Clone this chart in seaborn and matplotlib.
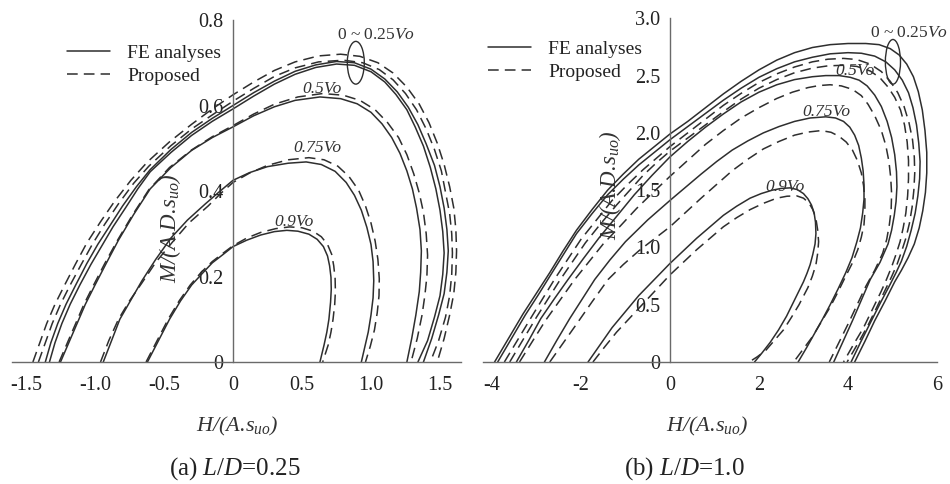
import matplotlib
matplotlib.use("Agg")
import matplotlib.pyplot as plt
import pandas as pd
import seaborn as sns
from matplotlib.patches import Ellipse
from matplotlib.lines import Line2D

# ---------------- panel (a)  L/D = 0.25 ----------------
a_fe_000 = [(-1.36,0),(-1.32,0.045),(-1.27,0.09),(-1.21,0.135),(-1.14,0.18),(-1.06,0.23),(-0.98,0.275),(-0.89,0.32),(-0.80,0.365),(-0.70,0.41),(-0.60,0.45),(-0.45,0.497),(-0.30,0.537),(-0.15,0.57),(0,0.60),(0.15,0.63),(0.30,0.657),(0.45,0.68),(0.60,0.695),(0.75,0.703),(0.88,0.70),(1.00,0.685),(1.10,0.662),(1.19,0.632),(1.27,0.596),(1.34,0.555),(1.40,0.51),(1.46,0.46),(1.50,0.41),(1.53,0.36),(1.55,0.31),(1.56,0.26),(1.55,0.21),(1.53,0.16),(1.49,0.11),(1.44,0.055),(1.38,0)]
a_fe_025 = [(-1.33,0),(-1.29,0.045),(-1.24,0.09),(-1.18,0.135),(-1.11,0.18),(-1.03,0.228),(-0.95,0.272),(-0.87,0.316),(-0.78,0.36),(-0.69,0.405),(-0.60,0.445),(-0.45,0.49),(-0.30,0.53),(-0.15,0.563),(0,0.592),(0.15,0.622),(0.30,0.65),(0.45,0.673),(0.60,0.689),(0.75,0.697),(0.88,0.694),(1.00,0.679),(1.10,0.655),(1.18,0.626),(1.26,0.59),(1.32,0.55),(1.38,0.505),(1.43,0.455),(1.47,0.405),(1.50,0.355),(1.52,0.305),(1.53,0.255),(1.52,0.205),(1.50,0.155),(1.46,0.105),(1.41,0.05),(1.34,0)]
a_pr_000 = [(-1.45,0),(-1.40,0.045),(-1.35,0.09),(-1.29,0.135),(-1.22,0.18),(-1.14,0.23),(-1.06,0.278),(-0.96,0.328),(-0.86,0.375),(-0.74,0.425),(-0.62,0.468),(-0.46,0.515),(-0.30,0.556),(-0.15,0.592),(0,0.625),(0.15,0.655),(0.30,0.682),(0.45,0.702),(0.62,0.716),(0.78,0.72),(0.92,0.715),(1.05,0.70),(1.16,0.676),(1.26,0.643),(1.35,0.603),(1.42,0.56),(1.48,0.512),(1.53,0.462),(1.57,0.41),(1.60,0.36),(1.615,0.31),(1.62,0.26),(1.615,0.21),(1.60,0.16),(1.57,0.11),(1.53,0.055),(1.48,0)]
a_pr_025 = [(-1.41,0),(-1.36,0.045),(-1.31,0.09),(-1.25,0.135),(-1.18,0.18),(-1.10,0.228),(-1.02,0.275),(-0.93,0.322),(-0.83,0.37),(-0.72,0.418),(-0.61,0.458),(-0.45,0.506),(-0.30,0.545),(-0.15,0.578),(0,0.61),(0.15,0.64),(0.30,0.668),(0.45,0.688),(0.62,0.702),(0.80,0.706),(0.94,0.70),(1.06,0.684),(1.16,0.66),(1.25,0.628),(1.33,0.59),(1.40,0.545),(1.46,0.497),(1.51,0.447),(1.54,0.397),(1.57,0.347),(1.585,0.30),(1.59,0.255),(1.585,0.205),(1.57,0.155),(1.54,0.105),(1.49,0.05),(1.43,0)]
a_fe_050 = [(-1.25,0),(-1.19,0.045),(-1.13,0.09),(-1.07,0.135),(-1.00,0.18),(-0.92,0.23),(-0.83,0.285),(-0.72,0.345),(-0.60,0.405),(-0.45,0.455),(-0.30,0.495),(-0.15,0.525),(0,0.55),(0.15,0.576),(0.30,0.597),(0.45,0.612),(0.63,0.62),(0.78,0.616),(0.90,0.604),(1.00,0.584),(1.08,0.557),(1.15,0.525),(1.21,0.488),(1.26,0.447),(1.30,0.405),(1.33,0.36),(1.355,0.31),(1.365,0.26),(1.36,0.21),(1.35,0.165),(1.325,0.11),(1.295,0.055),(1.26,0)]
a_pr_050 = [(-1.26,0),(-1.20,0.045),(-1.14,0.09),(-1.08,0.135),(-1.01,0.18),(-0.93,0.23),(-0.84,0.283),(-0.73,0.343),(-0.61,0.403),(-0.46,0.455),(-0.30,0.496),(-0.15,0.527),(0,0.553),(0.15,0.58),(0.30,0.603),(0.47,0.62),(0.65,0.628),(0.80,0.624),(0.92,0.612),(1.03,0.59),(1.12,0.56),(1.20,0.525),(1.26,0.485),(1.31,0.44),(1.35,0.395),(1.38,0.35),(1.40,0.30),(1.41,0.25),(1.405,0.20),(1.39,0.155),(1.37,0.11),(1.335,0.055),(1.29,0)]
a_fe_075 = [(-0.94,0),(-0.88,0.05),(-0.82,0.10),(-0.74,0.145),(-0.66,0.19),(-0.56,0.24),(-0.45,0.29),(-0.33,0.332),(-0.20,0.37),(-0.10,0.398),(0,0.425),(0.12,0.443),(0.25,0.457),(0.40,0.465),(0.53,0.468),(0.64,0.462),(0.74,0.446),(0.82,0.42),(0.88,0.39),(0.93,0.355),(0.97,0.315),(1.00,0.275),(1.015,0.235),(1.02,0.19),(1.015,0.15),(1.00,0.11),(0.98,0.07),(0.955,0.035),(0.93,0)]
a_pr_075 = [(-0.96,0),(-0.90,0.05),(-0.83,0.10),(-0.75,0.143),(-0.66,0.185),(-0.56,0.233),(-0.44,0.28),(-0.32,0.325),(-0.18,0.365),(-0.09,0.394),(0,0.42),(0.12,0.442),(0.25,0.46),(0.40,0.473),(0.55,0.478),(0.66,0.473),(0.76,0.458),(0.84,0.434),(0.91,0.402),(0.96,0.365),(1.00,0.325),(1.03,0.283),(1.05,0.24),(1.06,0.195),(1.058,0.155),(1.045,0.115),(1.025,0.075),(0.995,0.037),(0.96,0)]
a_fe_090 = [(-0.62,0),(-0.58,0.025),(-0.54,0.05),(-0.50,0.075),(-0.46,0.10),(-0.38,0.143),(-0.30,0.18),(-0.22,0.208),(-0.15,0.232),(-0.07,0.252),(0,0.27),(0.10,0.285),(0.20,0.297),(0.30,0.305),(0.39,0.308),(0.47,0.306),(0.55,0.299),(0.61,0.287),(0.655,0.27),(0.685,0.248),(0.70,0.225),(0.71,0.198),(0.712,0.17),(0.707,0.14),(0.695,0.10),(0.68,0.07),(0.66,0.04),(0.645,0.02),(0.63,0)]
a_pr_090 = [(-0.63,0),(-0.59,0.025),(-0.55,0.05),(-0.51,0.075),(-0.47,0.10),(-0.39,0.143),(-0.31,0.18),(-0.23,0.21),(-0.15,0.235),(-0.07,0.255),(0,0.272),(0.10,0.29),(0.20,0.303),(0.31,0.312),(0.41,0.316),(0.50,0.314),(0.58,0.306),(0.64,0.293),(0.685,0.275),(0.715,0.252),(0.73,0.225),(0.74,0.195),(0.742,0.165),(0.737,0.135),(0.725,0.10),(0.71,0.07),(0.69,0.04),(0.67,0.02),(0.65,0)]

# ---------------- panel (b)  L/D = 1.0 ----------------
b_fe_000 = [(-3.94,0),(-3.62,0.21),(-3.30,0.42),(-3.00,0.60),(-2.70,0.78),(-2.40,0.97),(-2.10,1.15),(-1.75,1.33),(-1.40,1.50),(-1.05,1.64),(-0.70,1.77),(-0.35,1.88),(0,1.99),(0.40,2.10),(0.80,2.22),(1.20,2.34),(1.60,2.45),(2.00,2.55),(2.40,2.635),(2.80,2.70),(3.20,2.745),(3.60,2.77),(4.00,2.78),(4.40,2.78),(4.70,2.77),(4.95,2.735),(5.15,2.68),(5.32,2.60),(5.47,2.49),(5.58,2.36),(5.67,2.20),(5.73,2.02),(5.77,1.83),(5.77,1.65),(5.74,1.48),(5.68,1.32),(5.60,1.17),(5.49,1.03),(5.35,0.91),(5.20,0.80),(5.05,0.70),(4.83,0.53),(4.60,0.36),(4.38,0.18),(4.15,0)]
b_fe_025 = [(-3.87,0),(-3.56,0.205),(-3.25,0.41),(-2.96,0.585),(-2.68,0.76),(-2.39,0.94),(-2.10,1.12),(-1.75,1.295),(-1.40,1.46),(-1.05,1.595),(-0.70,1.72),(-0.35,1.83),(0,1.94),(0.40,2.055),(0.80,2.17),(1.20,2.285),(1.60,2.39),(2.00,2.485),(2.40,2.56),(2.80,2.62),(3.20,2.66),(3.60,2.69),(4.00,2.70),(4.30,2.695),(4.60,2.67),(4.85,2.62),(5.05,2.55),(5.22,2.46),(5.36,2.35),(5.46,2.22),(5.54,2.07),(5.59,1.91),(5.62,1.75),(5.61,1.60),(5.57,1.45),(5.51,1.30),(5.42,1.15),(5.32,1.01),(5.20,0.88),(5.08,0.78),(4.95,0.68),(4.72,0.51),(4.50,0.34),(4.28,0.17),(4.07,0)]
b_pr_000 = [(-3.72,0),(-3.41,0.20),(-3.10,0.40),(-2.84,0.565),(-2.58,0.73),(-2.29,0.90),(-2.00,1.07),(-1.65,1.24),(-1.30,1.41),(-0.95,1.55),(-0.60,1.68),(-0.30,1.78),(0,1.88),(0.40,2.00),(0.80,2.12),(1.20,2.24),(1.60,2.345),(2.00,2.44),(2.40,2.515),(2.80,2.575),(3.20,2.62),(3.55,2.643),(3.90,2.65),(4.20,2.64),(4.50,2.60),(4.75,2.535),(4.95,2.45),(5.12,2.35),(5.26,2.23),(5.37,2.09),(5.45,1.94),(5.49,1.79),(5.50,1.65),(5.48,1.50),(5.44,1.35),(5.38,1.21),(5.30,1.08),(5.20,0.96),(5.10,0.85),(4.98,0.745),(4.85,0.64),(4.65,0.48),(4.45,0.32),(4.22,0.16),(3.98,0)]
b_pr_025 = [(-3.60,0),(-3.30,0.195),(-3.00,0.39),(-2.74,0.55),(-2.48,0.71),(-2.19,0.875),(-1.90,1.04),(-1.55,1.21),(-1.20,1.37),(-0.90,1.50),(-0.60,1.63),(-0.30,1.74),(0,1.84),(0.40,1.955),(0.80,2.07),(1.20,2.185),(1.60,2.295),(2.00,2.39),(2.40,2.465),(2.80,2.525),(3.20,2.565),(3.55,2.585),(3.90,2.59),(4.20,2.58),(4.50,2.54),(4.72,2.48),(4.90,2.40),(5.05,2.31),(5.18,2.20),(5.27,2.07),(5.33,1.92),(5.36,1.76),(5.36,1.60),(5.34,1.45),(5.30,1.30),(5.24,1.17),(5.17,1.05),(5.08,0.94),(4.98,0.83),(4.87,0.725),(4.75,0.62),(4.55,0.46),(4.35,0.30),(4.12,0.15),(3.90,0)]
b_fe_050 = [(-3.45,0),(-3.17,0.19),(-2.90,0.38),(-2.60,0.55),(-2.29,0.72),(-1.95,0.90),(-1.60,1.08),(-1.20,1.27),(-0.80,1.46),(-0.40,1.63),(0,1.79),(0.40,1.925),(0.80,2.05),(1.20,2.165),(1.60,2.27),(2.00,2.355),(2.40,2.42),(2.80,2.465),(3.20,2.49),(3.50,2.50),(3.80,2.50),(4.05,2.485),(4.25,2.46),(4.43,2.41),(4.60,2.33),(4.75,2.23),(4.88,2.10),(4.98,1.96),(5.05,1.81),(5.09,1.66),(5.10,1.53),(5.08,1.40),(5.04,1.28),(4.98,1.15),(4.90,1.03),(4.72,0.87),(4.50,0.72),(4.30,0.54),(4.10,0.36),(3.89,0.18),(3.68,0)]
b_pr_050 = [(-3.38,0),(-3.09,0.18),(-2.80,0.36),(-2.47,0.54),(-2.14,0.72),(-1.82,0.875),(-1.50,1.03),(-1.12,1.185),(-0.75,1.34),(-0.38,1.48),(0,1.62),(0.40,1.76),(0.80,1.90),(1.20,2.02),(1.60,2.13),(2.00,2.22),(2.40,2.30),(2.75,2.355),(3.10,2.395),(3.35,2.413),(3.60,2.42),(3.85,2.41),(4.10,2.38),(4.30,2.325),(4.45,2.25),(4.60,2.15),(4.75,2.02),(4.85,1.89),(4.92,1.75),(4.96,1.61),(4.98,1.47),(4.97,1.33),(4.93,1.20),(4.87,1.07),(4.78,0.95),(4.60,0.80),(4.40,0.66),(4.20,0.495),(4.00,0.33),(3.79,0.165),(3.58,0)]
b_fe_075 = [(-2.82,0),(-2.54,0.19),(-2.25,0.38),(-1.97,0.55),(-1.69,0.72),(-1.35,0.89),(-1.00,1.05),(-0.50,1.24),(0,1.41),(0.35,1.525),(0.70,1.64),(1.05,1.75),(1.40,1.85),(1.75,1.93),(2.10,2.00),(2.45,2.055),(2.80,2.10),(3.15,2.13),(3.50,2.14),(3.72,2.13),(3.90,2.10),(4.04,2.05),(4.15,1.98),(4.24,1.89),(4.30,1.78),(4.34,1.67),(4.36,1.55),(4.36,1.42),(4.33,1.30),(4.28,1.17),(4.20,1.05),(4.09,0.91),(3.95,0.78),(3.78,0.64),(3.60,0.50),(3.43,0.375),(3.25,0.25),(3.07,0.125),(2.88,0)]
b_pr_075 = [(-2.70,0),(-2.40,0.165),(-2.10,0.33),(-1.75,0.525),(-1.39,0.72),(-1.05,0.85),(-0.70,0.97),(-0.35,1.075),(0,1.18),(0.35,1.305),(0.70,1.43),(1.05,1.55),(1.40,1.67),(1.75,1.77),(2.10,1.86),(2.45,1.925),(2.80,1.98),(3.10,2.007),(3.40,2.02),(3.62,2.005),(3.80,1.97),(3.96,1.92),(4.10,1.85),(4.21,1.76),(4.30,1.65),(4.35,1.54),(4.38,1.42),(4.38,1.31),(4.36,1.20),(4.30,1.09),(4.22,0.98),(4.10,0.865),(3.95,0.75),(3.78,0.615),(3.60,0.48),(3.40,0.35),(3.20,0.22),(2.99,0.11),(2.78,0)]
b_fe_090 = [(-1.84,0),(-1.57,0.15),(-1.30,0.30),(-1.00,0.44),(-0.70,0.58),(-0.35,0.72),(0,0.86),(0.30,0.97),(0.60,1.08),(0.90,1.18),(1.20,1.28),(1.50,1.36),(1.80,1.43),(2.05,1.47),(2.30,1.50),(2.50,1.515),(2.70,1.52),(2.86,1.505),(3.00,1.47),(3.10,1.425),(3.18,1.37),(3.24,1.30),(3.27,1.22),(3.28,1.12),(3.26,1.03),(3.21,0.94),(3.15,0.85),(3.08,0.775),(3.00,0.70),(2.81,0.55),(2.62,0.40),(2.44,0.28),(2.25,0.17),(2.07,0.08),(1.90,0)]
b_pr_090 = [(-1.73,0),(-1.47,0.13),(-1.20,0.26),(-0.90,0.385),(-0.60,0.51),(-0.30,0.635),(0,0.76),(0.30,0.87),(0.60,0.98),(0.90,1.08),(1.20,1.18),(1.50,1.26),(1.80,1.33),(2.10,1.385),(2.40,1.43),(2.63,1.447),(2.85,1.45),(3.00,1.43),(3.12,1.39),(3.21,1.33),(3.28,1.25),(3.32,1.15),(3.34,1.05),(3.32,0.95),(3.28,0.85),(3.20,0.75),(3.10,0.65),(3.00,0.575),(2.90,0.50),(2.73,0.39),(2.55,0.28),(2.35,0.19),(2.15,0.10),(1.96,0.045),(1.78,0)]

# tick labels / texts
a_xticks = [-1.5, -1.0, -0.5, 0, 0.5, 1.0, 1.5]
a_xlabels = ["-1.5", "-1.0", "-0.5", "0", "0.5", "1.0", "1.5"]
a_yticks = [0, 0.2, 0.4, 0.6, 0.8]
a_ylabels = ["0", "0.2", "0.4", "0.6", "0.8"]
b_xticks = [-4, -2, 0, 2, 4, 6]
b_xlabels = ["-4", "-2", "0", "2", "4", "6"]
b_yticks = [0, 0.5, 1.0, 1.5, 2.0, 2.5, 3.0]
b_ylabels = ["0", "0.5", "1.0", "1.5", "2.0", "2.5", "3.0"]
legend_labels = ["FE analyses", "Proposed"]

FE, PR = legend_labels


def build(curves):
    rows = []
    for name, kind, pts in curves:
        for i, (h, m) in enumerate(pts):
            rows.append({"curve": name, "kind": kind, "i": i, "H": h, "M": m})
    return pd.DataFrame(rows)


df_a = build([("a0", FE, a_fe_000), ("a25", FE, a_fe_025), ("a50", FE, a_fe_050),
              ("a75", FE, a_fe_075), ("a90", FE, a_fe_090),
              ("p0", PR, a_pr_000), ("p25", PR, a_pr_025), ("p50", PR, a_pr_050),
              ("p75", PR, a_pr_075), ("p90", PR, a_pr_090)])
df_b = build([("a0", FE, b_fe_000), ("a25", FE, b_fe_025), ("a50", FE, b_fe_050),
              ("a75", FE, b_fe_075), ("a90", FE, b_fe_090),
              ("p0", PR, b_pr_000), ("p25", PR, b_pr_025), ("p50", PR, b_pr_050),
              ("p75", PR, b_pr_075), ("p90", PR, b_pr_090)])

sns.set_theme(style="white")
plt.rcParams["font.family"] = ["Liberation Serif", "DejaVu Serif"]
plt.rcParams["mathtext.fontset"] = "custom"
plt.rcParams["mathtext.rm"] = "Liberation Serif"
plt.rcParams["mathtext.it"] = "Liberation Serif:italic"

LC = "#2e2e2e"
SC = "#6a6a6a"
DASH = (7, 4)

fig = plt.figure(figsize=(9.5, 4.84), dpi=100)
fig.patch.set_facecolor("white")
ax_a = fig.add_axes([12.2 / 950, 122 / 484, 448.5 / 950, 342 / 484])
ax_b = fig.add_axes([483 / 950, 122 / 484, 454 / 950, 343.7 / 484])

for ax, df in ((ax_a, df_a), (ax_b, df_b)):
    sns.lineplot(data=df, x="H", y="M", units="curve", estimator=None, sort=False,
                 style="kind", dashes={FE: "", PR: DASH}, color=LC, lw=1.1,
                 legend=False, ax=ax)

ax_a.set_xlim(-1.6, 1.65)
ax_a.set_ylim(0, 0.8)
ax_b.set_xlim(-4.2, 6.0)
ax_b.set_ylim(0, 3.0)

for ax, xt, xl, yt, yl in ((ax_a, a_xticks, a_xlabels, a_yticks, a_ylabels),
                           (ax_b, b_xticks, b_xlabels, b_yticks, b_ylabels)):
    ax.set_facecolor("white")
    ax.spines["left"].set_position(("data", 0))
    ax.spines["bottom"].set_position(("data", 0))
    ax.spines["top"].set_visible(False)
    ax.spines["right"].set_visible(False)
    for s in ("left", "bottom"):
        ax.spines[s].set_color(SC)
        ax.spines[s].set_linewidth(1.0)
    ax.set_xticks(xt)
    ax.set_xticklabels(xl)
    ax.set_yticks(yt)
    ax.set_yticklabels(yl)
    ax.tick_params(axis="both", which="major", direction="out", length=4, width=1.0,
                   color=SC, labelsize=14.5, labelcolor="#222222", pad=3)
    ax.tick_params(axis="x", pad=6)
    ax.set_xlabel("")
    ax.set_ylabel(r"M/(A.D.s$_{uo}$)", fontsize=16.5, color="#333333", style="italic")
    ax.grid(False)
    handles = [Line2D([], [], color=LC, lw=1.1),
               Line2D([], [], color=LC, lw=1.1, dashes=DASH)]
    top = 44 if ax is ax_a else 40
    leg = ax.legend(handles, legend_labels, loc="upper left", frameon=False,
                    fontsize=14, handlelength=2.2, handletextpad=0.9,
                    labelspacing=0.3, borderpad=0, borderaxespad=0,
                    bbox_transform=fig.transFigure,
                    bbox_to_anchor=((67 if ax is ax_a else 488) / 950, 1 - top / 484))
    for t in leg.get_texts():
        t.set_color("#222222")

ax_a.yaxis.set_label_coords(0.38, 0.392)
ax_b.yaxis.set_label_coords(0.308, 0.515)

# annotations panel (a)
kw = dict(fontsize=12.5, color="#333333", ha="center", va="center")
ax_a.text(0.754, 0.765, r"0 ~ $\mathit{0.25Vo}$", fontsize=12.5, color="#333333", ha="left", va="center")
ax_a.text(0.645, 0.638, "0.5Vo", style="italic", **kw)
ax_a.text(0.61, 0.50, "0.75Vo", style="italic", **kw)
ax_a.text(0.44, 0.328, "0.9Vo", style="italic", **kw)
ax_a.add_patch(Ellipse((0.89, 0.70), 0.123, 0.10, fill=False, ec=LC, lw=1.0))

# annotations panel (b)
ax_b.text(4.49, 2.876, r"0 ~ $\mathit{0.25Vo}$", fontsize=12.5, color="#333333", ha="left", va="center")
ax_b.text(4.16, 2.54, "0.5Vo", style="italic", **kw)
ax_b.text(3.51, 2.185, "0.75Vo", style="italic", **kw)
ax_b.text(2.58, 1.53, "0.9Vo", style="italic", **kw)
ax_b.add_patch(Ellipse((5.01, 2.62), 0.34, 0.39, fill=False, ec=LC, lw=1.0))

# x-axis labels and captions
fig.text(237 / 950, 1 - 426 / 484, r"H/(A.s$_{uo}$)", fontsize=16, color="#333333", ha="center", va="center", style="italic")
fig.text(707 / 950, 1 - 426 / 484, r"H/(A.s$_{uo}$)", fontsize=16, color="#333333", ha="center", va="center", style="italic")
fig.text(235 / 950, 1 - 469 / 484, r"(a) $L/D$=0.25", fontsize=18, color="#222222", ha="center", va="center")
fig.text(684 / 950, 1 - 469 / 484, r"(b) $L/D$=1.0", fontsize=18, color="#222222", ha="center", va="center")

fig.savefig("out.png", dpi=100, facecolor="white")
